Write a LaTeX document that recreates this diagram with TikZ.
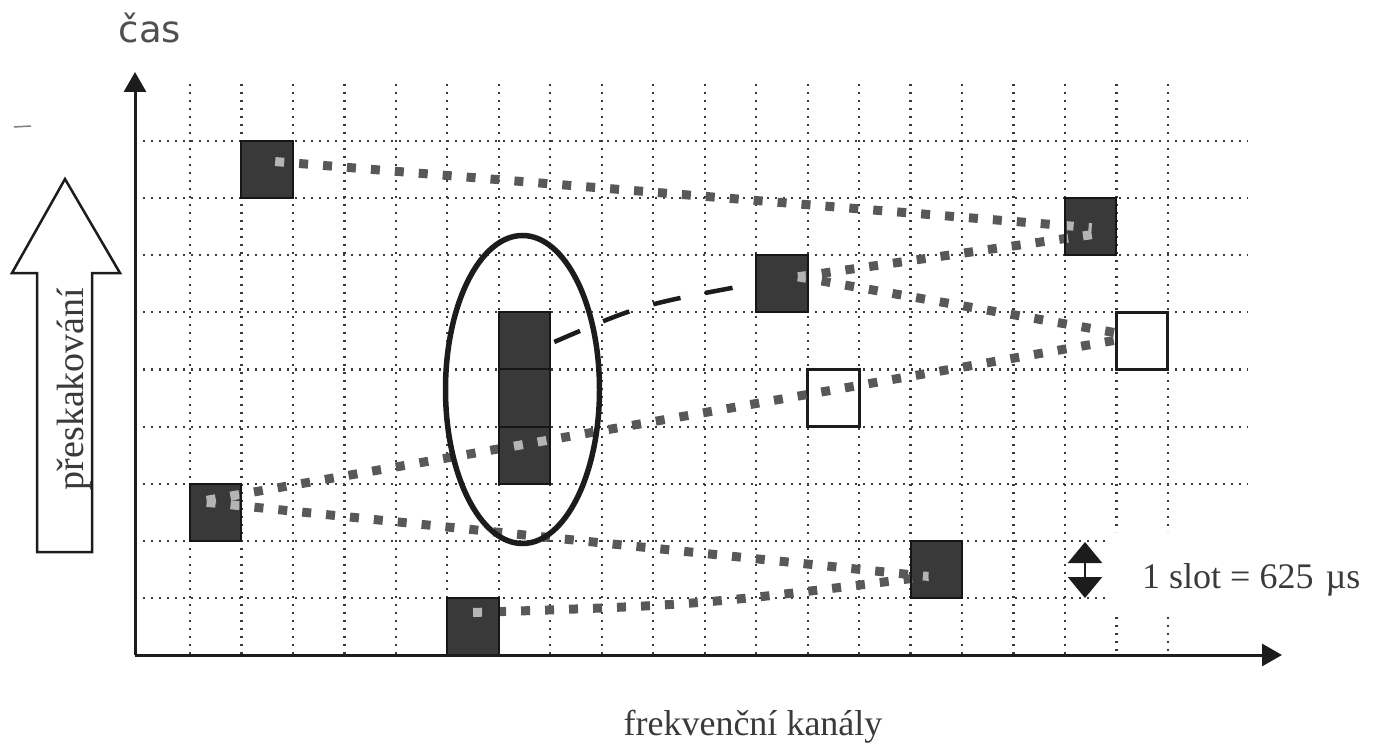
\documentclass[tikz,border=0pt]{standalone}
\usepackage{fontspec}
\setmainfont{Liberation Serif}
\newfontfamily\casfont{DejaVu Sans}
\usetikzlibrary{arrows.meta,shapes.geometric,calc}
\definecolor{gridc}{HTML}{3A3A3A}
\definecolor{blkfill}{HTML}{393939}
\definecolor{blkdraw}{HTML}{161616}
\definecolor{conndark}{HTML}{585858}
\definecolor{connlight}{HTML}{B4B4B4}
\definecolor{inkc}{HTML}{1C1C1C}
\definecolor{txtc}{HTML}{3A3A3A}
\definecolor{casc}{HTML}{505050}
\newcommand\hopconns[1]{%
  \draw[hop,#1] ($(b1)+(8,-8)$) -- ($(b7)+(1,1)$);
  \draw[hop,#1] ($(b5)+(16,-7)$) -- ($(b7)+(1,8)$);
  \draw[hop,#1] ($(b5)+(16,-7)$) -- ($(b8)+(-14,-6)$);
  \draw[hop,#1] ($(b2)+(-9,-12)$) -- ($(b8)+(-14,-3)$);
  \draw[hop,#1] ($(b2)+(-9,-10)$) -- ($(b9)+(-8,7)$);
  \draw[hop,#1] ($(b3)+(0,-14)$) .. controls (700,605) .. ($(b9)+(-8,7)$);
}
\begin{document}
\begin{tikzpicture}[x=1pt,y=-1pt,
  gridline/.style={draw=gridc,line width=2.2pt,dash pattern=on 2.2pt off 5.8pt},
  cell/.style={minimum width=51.47pt,minimum height=57.125pt,inner sep=0pt,outer sep=0pt},
  dblk/.style={cell,fill=blkfill,draw=blkdraw,line width=2pt},
  wblk/.style={cell,fill=white,draw=inkc,line width=3pt},
  hop/.style={line width=9pt,dash pattern=on 9pt off 15pt,line cap=butt},
  darkhop/.style={draw=conndark},
  lighthop/.style={draw=connlight},
  axisline/.style={draw=inkc,line width=3pt,-{Triangle[width=22pt,length=20pt]}},
  lbl/.style={text=txtc,inner sep=0pt}]
\useasboundingbox (0,0) rectangle (1390,749);

% grid
\foreach \k in {0,...,17}
  \draw[gridline] ({190+51.47*\k},84) -- ({190+51.47*\k},655);
\foreach \k in {18,19} {
  \draw[gridline] ({190+51.47*\k},84) -- ({190+51.47*\k},532);
  \draw[gridline] ({190+51.47*\k},617) -- ({190+51.47*\k},655);
}
\foreach \j in {0,...,6}
  \draw[gridline] (135,{141+57.125*\j}) -- (1248,{141+57.125*\j});
\foreach \j in {7,8}
  \draw[gridline] (135,{141+57.125*\j}) -- (1110,{141+57.125*\j});

% white (free) slots
\node[wblk] (b6) at (833.4,398.05) {};
\node[wblk] (b8) at (1142.2,340.95) {};

% block placement (named positions)
\coordinate (b1) at (267.2,169.55);
\coordinate (b2) at (215.7,512.3);
\coordinate (b3) at (473.1,626.5);
\coordinate (b5) at (781.9,283.8);
\coordinate (b7) at (1090.7,226.7);
\coordinate (b9) at (936.3,569.45);

% hop connectors (under the blocks)
\hopconns{darkhop}

% dark slots
\node[dblk] (B1) at (b1) {};
\node[dblk] (B2) at (b2) {};
\node[dblk] (B3) at (b3) {};
\node[dblk] (b4a) at (524.55,340.95) {};
\node[dblk] (b4b) at (524.55,398.05) {};
\node[dblk] (b4c) at (524.55,455.2) {};
\node[dblk] (B5) at (b5) {};
\node[dblk] (B7) at (b7) {};
\node[dblk] (B9) at (b9) {};

% hop connectors seen through the dark slots
\begin{scope}
  \clip ($(B1.south west)+(2pt,2pt)$) rectangle ($(B1.north east)+(-2pt,-2pt)$)
        ($(B2.south west)+(2pt,2pt)$) rectangle ($(B2.north east)+(-2pt,-2pt)$)
        ($(B3.south west)+(2pt,2pt)$) rectangle ($(B3.north east)+(-2pt,-2pt)$)
        ($(b4c.south west)+(2pt,2pt)$) rectangle ($(b4a.north east)+(-2pt,-2pt)$)
        ($(B5.south west)+(2pt,2pt)$) rectangle ($(B5.north east)+(-2pt,-2pt)$)
        ($(B7.south west)+(2pt,2pt)$) rectangle ($(B7.north east)+(-2pt,-2pt)$)
        ($(B9.south west)+(2pt,2pt)$) rectangle ($(B9.north east)+(-2pt,-2pt)$);
  \hopconns{lighthop}
\end{scope}

% ellipse and dashed link
\node[ellipse,draw=inkc,line width=5.5pt,minimum width=154pt,minimum height=308pt,inner sep=0pt] (ell) at (522.5,389.5) {};
\draw[draw=inkc,line width=4.5pt,dash pattern=on 28pt off 25pt]
  ($(b4a.east)+(4,1)$) .. controls (640,305) .. ($(B5.west)+(-2,0)$);

% axes
\coordinate (O) at (135,655);
\coordinate (ytip) at (135,72);
\coordinate (xtip) at (1282,655);
\draw[axisline] (O) -- (ytip);
\draw[axisline] (O) -- (xtip);

% slot size marker
\coordinate (ud1) at (1085,542);
\coordinate (ud2) at (1085,598);
\draw[draw=inkc,line width=2.5pt,{Triangle[width=34pt,length=21pt]}-{Triangle[width=34pt,length=21pt]}] (ud1) -- (ud2);
\node[lbl,anchor=base west,font=\fontsize{36}{40}\selectfont] (slot) at (1142,588) {1 slot = 625\,\,µs};

% hopping arrow
\draw[draw=inkc,line width=2.5pt,line join=miter,fill=white]
  (37,552) -- (37,273) -- (12,273) -- (65,179) -- (120,273) -- (92,273) -- (92,552) -- cycle;
\node[lbl,rotate=90,anchor=base,font=\fontsize{38}{40}\selectfont] (presk) at (83,389) {přeskakování};

% stray mark
\draw[draw=gray,line width=1.5pt] (14,127) -- (31,126);

% labels
\node[anchor=base,text=casc,inner sep=0pt,font=\casfont\fontsize{37}{40}\selectfont] (cas) at (150,43) {čas};
\node[lbl,anchor=base,font=\fontsize{36}{40}\selectfont] (fk) at (753,735) {frekvenční kanály};
\end{tikzpicture}
\end{document}
